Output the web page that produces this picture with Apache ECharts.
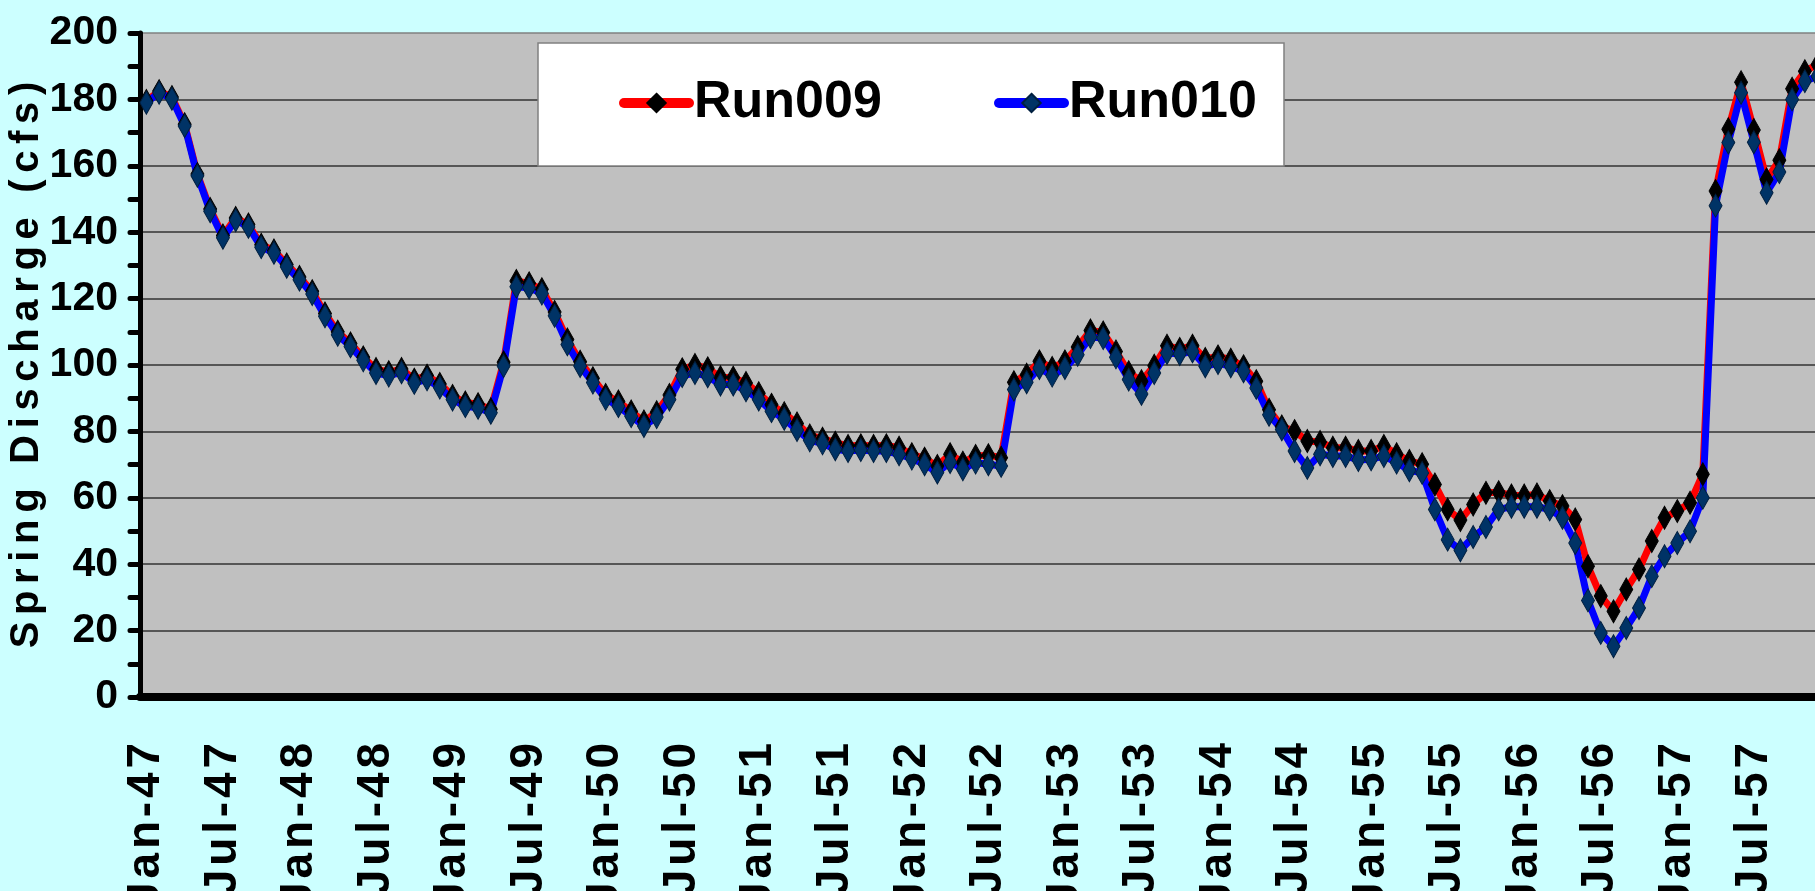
<!DOCTYPE html>
<html>
<head>
<meta charset="UTF-8">
<title>Spring Discharge</title>
<script src="https://cdn.jsdelivr.net/npm/echarts@6/dist/echarts.min.js"></script>
<style>
html, body { margin: 0; padding: 0; background: #ccffff; overflow: hidden; }
#chart { width: 1815px; height: 891px; }
</style>
</head>
<body>
<div id="chart"></div>
<script>
// month / year parts of the category labels
var monthNames = ['Jan', 'Feb', 'Mar', 'Apr', 'May', 'Jun', 'Jul', 'Aug', 'Sep', 'Oct', 'Nov', 'Dec'];
var yearNames = ['47', '48', '49', '50', '51', '52', '53', '54', '55', '56', '57'];

// Run009 (red line, black diamonds), one value per month
var run009 = [
	179.5, 182.5, 180.7, 172.5, 157.5, 147, 139, 144.3, 142.3, 136.2, 134.5, 130.3,
	126.5, 122.2, 115.5, 110, 106.5, 102.3, 98.8, 97.8, 98.8, 95.6, 96.8, 94.3,
	90.7, 88.7, 88.2, 86.7, 100.8, 125.3, 124.6, 122.8, 116, 107.7, 101, 96,
	91, 89, 86, 83, 85.8, 91, 98.7, 100, 99, 96.3, 96.2, 94.6,
	91.5, 88, 85.5, 82.4, 78.8, 77.8, 76.6, 75.6, 75.8, 75.6, 75.8, 75.1,
	73.1, 71.8, 69.6, 73.1, 70.6, 72.6, 72.8, 72.1, 94.8, 97.1, 101.1, 99.1,
	101.1, 105.4, 110.4, 109.8, 104.1, 97.8, 95.1, 99.8, 105.8, 104.8, 105.8, 101.8,
	102.6, 101.6, 99.6, 95.1, 86.5, 81.5, 80.1, 77.1, 76.8, 75.1, 75.1, 74.1,
	74.1, 75.6, 73.1, 71.1, 70.1, 64, 56.5, 53.3, 58, 61.5, 61.7, 60.7,
	60.7, 61, 59, 57.5, 53.5, 39.4, 30.4, 25.8, 32.4, 38.4, 47, 54,
	56, 58.5, 67.1, 152.4, 171, 185.2, 170.8, 155.9, 161.7, 183.2, 188.5, 190.5
];

// Run010 (blue line, navy diamonds)
var run010 = [
	179, 182, 180.2, 172, 157, 146.3, 138.3, 143.6, 141.6, 135.5, 133.8, 129.6,
	125.7, 121.4, 114.7, 109.1, 105.6, 101.4, 97.6, 96.8, 97.8, 94.6, 95.7, 93.2,
	89.6, 87.6, 87.1, 85.6, 99.7, 123.6, 123.3, 121.5, 114.8, 106.2, 99.7, 94.7,
	89.8, 87.6, 84.6, 81.6, 84.3, 89.6, 96.7, 97.6, 96.6, 94.1, 94.1, 92.4,
	89.6, 86.1, 83.8, 80.4, 77.3, 76.4, 74.6, 74.1, 74.4, 74.1, 74.1, 73.1,
	71.8, 70.1, 67.6, 70.8, 68.6, 70.6, 70.1, 69.6, 92.6, 94.8, 99.1, 96.8,
	99.1, 103.1, 108.4, 108.1, 102.3, 95.6, 91.3, 97.6, 103.6, 103.3, 104.1, 99.6,
	100.6, 99.6, 98.1, 93.1, 85, 80.6, 74.1, 69, 73.1, 72.6, 72.6, 71.4,
	71.6, 72.6, 70.6, 68.3, 67.5, 56.5, 47.4, 44.2, 48.2, 51.2, 56.5, 57.3,
	57.3, 57.3, 56.5, 54, 46.4, 29.1, 19.3, 15.3, 20.8, 26.8, 36.4, 42.4,
	46.4, 49.9, 60, 148, 167, 182, 167.1, 151.9, 158.1, 180, 185.5, 187
];

var yTitle = 'Spring Discharge (cfs)';

var categories = [];
for (var y = 0; y < yearNames.length; y++) {
	for (var m = 0; m < monthNames.length; m++) {
		categories.push(monthNames[m] + '-' + yearNames[y]);
	}
}

// spread letters out like the stretched original
function spaced(s, gap) {
	return s.split('').join(gap);
}

var boldFont = "'Liberation Sans', Arial, sans-serif";

var myChart = echarts.init(document.getElementById('chart'));

// gridlines: dark, the 200 line is the grey plot border
var gridColors = ['#333', '#333', '#333', '#333', '#333', '#333', '#333', '#333', '#333', '#333', '#808080'];

var legendText = { fontSize: 52, fontWeight: 'bold', fontFamily: boldFont, color: '#000' };

var option = {
	animation: false,
	backgroundColor: '#ccffff',
	grid: {
		left: 140,
		top: 33,
		right: -9,
		bottom: 194,
		containLabel: false,
		outerBoundsMode: 'none',
		show: true,
		backgroundColor: '#c0c0c0',
		borderWidth: 0
	},
	graphic: [{
		type: 'rect',
		z: 5,
		shape: { x: 538, y: 43, width: 746, height: 123 },
		style: { fill: '#ffffff', stroke: '#808080', lineWidth: 1.5 }
	}],
	legend: [{
		data: ['Run009'],
		left: 614,
		top: 72,
		z: 10,
		itemWidth: 65,
		itemHeight: 23,
		lineStyle: { width: 10, cap: 'round' },
		textStyle: legendText
	}, {
		data: ['Run010'],
		left: 989,
		top: 72,
		z: 10,
		itemWidth: 65,
		itemHeight: 23,
		lineStyle: { width: 10, cap: 'round' },
		textStyle: legendText
	}],
	xAxis: {
		type: 'category',
		data: categories,
		boundaryGap: true,
		axisLine: { lineStyle: { color: '#000', width: 8 } },
		axisTick: {
			interval: 5,
			length: 20,
			lineStyle: { color: '#000', width: 4, cap: 'round' }
		},
		axisLabel: {
			interval: 5,
			rotate: 90,
			margin: 46,
			padding: [24, 0, 0, 0],
			fontSize: 46,
			fontWeight: 'bold',
			fontFamily: boldFont,
			color: '#000',
			formatter: function (v) { return spaced(v, '\u200A'); }
		},
		splitLine: { show: false }
	},
	yAxis: {
		type: 'value',
		min: 0,
		max: 200,
		interval: 20,
		name: spaced(yTitle, '\u2006'),
		nameLocation: 'middle',
		nameGap: 93,
		nameMoveOverlap: false,
		nameTextStyle: { fontSize: 40, fontWeight: 'bold', fontFamily: boldFont, color: '#000' },
		axisLine: { show: true, lineStyle: { color: '#000', width: 5 } },
		axisTick: { show: true, length: 10, lineStyle: { color: '#000', width: 5, cap: 'round' } },
		minorTick: { show: true, splitNumber: 2, length: 10, lineStyle: { color: '#000', width: 5, cap: 'round' } },
		axisLabel: {
			margin: 22,
			fontSize: 41,
			fontWeight: 'bold',
			fontFamily: boldFont,
			color: '#000'
		},
		splitLine: { show: true, lineStyle: { color: gridColors, width: 1.5 } }
	},
	series: [{
		name: 'Run009',
		type: 'line',
		data: run009,
		symbol: 'diamond',
		symbolSize: [13, 23],
		showAllSymbol: true,
		lineStyle: { color: '#ff0000', width: 7 },
		itemStyle: { color: '#000000', borderColor: '#000000', borderWidth: 1 }
	}, {
		name: 'Run010',
		type: 'line',
		data: run010,
		symbol: 'diamond',
		symbolSize: [13, 23],
		showAllSymbol: true,
		lineStyle: { color: '#0000ff', width: 7 },
		itemStyle: { color: '#003366', borderColor: '#001f3f', borderWidth: 1 }
	}]
};
myChart.setOption(option);
</script>
</body>
</html>
